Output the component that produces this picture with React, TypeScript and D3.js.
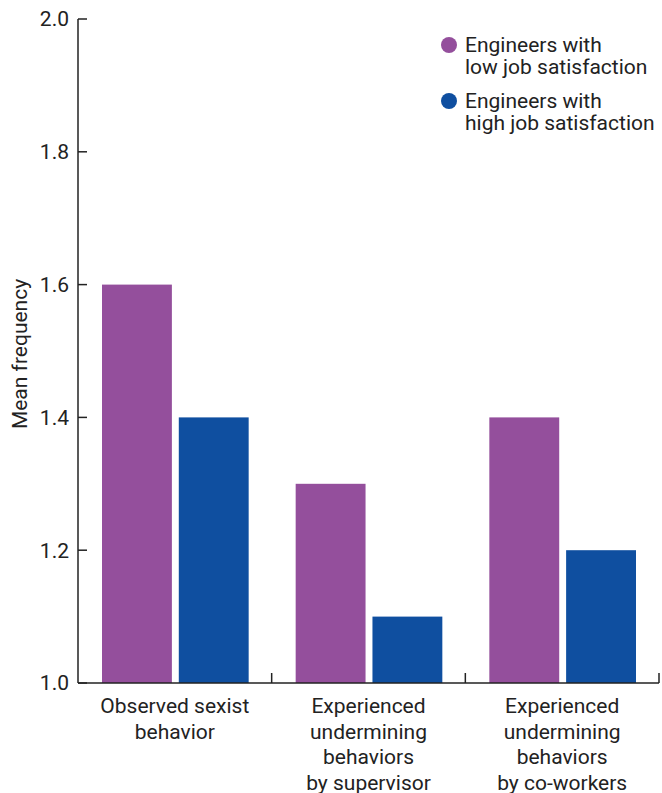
import React from "react";
import * as d3 from "d3";

const categories = [
  ["Observed sexist", "behavior"],
  ["Experienced", "undermining", "behaviors", "by supervisor"],
  ["Experienced", "undermining", "behaviors", "by co-workers"],
];
const seriesKeys = ["low", "high"];
const legendLabels = [
  ["Engineers with", "low job satisfaction"],
  ["Engineers with", "high job satisfaction"],
];
const lowValues = [1.6, 1.3, 1.4];
const highValues = [1.4, 1.1, 1.2];
const yTicks = [1.0, 1.2, 1.4, 1.6, 1.8, 2.0];
const colors = ["#944f9c", "#0f4fa0"];

export default function App() {
  const W = 662, H = 793;
  const left = 78, right = 659, top = 19, bottom = 683;
  const font = "Roboto, 'Noto Sans', sans-serif";
  const x0 = d3.scaleBand<number>().domain([0, 1, 2]).range([left, right]).padding(0);
  const bw = x0.bandwidth();
  const x1 = d3.scaleBand<string>().domain(seriesKeys).range([24, bw - 23]).paddingInner(0.09);
  const y = d3.scaleLinear().domain([1.0, 2.0]).range([bottom, top]);
  const values = [lowValues, highValues];
  const fs = 21;

  return (
    <svg width={W} height={H} style={{ position: "absolute", left: 0, top: 0 }} fontFamily={font}>
      {categories.map((_, i) =>
        seriesKeys.map((k, s) => (
          <rect
            key={`${i}-${k}`}
            x={(x0(i) as number) + (x1(k) as number)}
            y={y(values[s][i])}
            width={x1.bandwidth()}
            height={y(1.0) - y(values[s][i])}
            fill={colors[s]}
          />
        ))
      )}
      {/* y axis */}
      <line x1={left} x2={left} y1={top} y2={bottom} stroke="#222" strokeWidth={1.5} />
      {yTicks.map((t) => (
        <g key={t}>
          <line x1={left} x2={left + 9} y1={y(t)} y2={y(t)} stroke="#222" strokeWidth={1.5} />
          <text x={69} y={y(t)} dy="0.35em" textAnchor="end" fontSize={fs} fill="#222">
            {t.toFixed(1)}
          </text>
        </g>
      ))}
      {/* x axis */}
      <line x1={left} x2={right} y1={bottom} y2={bottom} stroke="#222" strokeWidth={1.5} />
      {[1, 2, 3].map((i) => {
        const xx = i < 3 ? (x0(i) as number) : right;
        return <line key={i} x1={xx} x2={xx} y1={bottom} y2={bottom - 10} stroke="#222" strokeWidth={1.5} />;
      })}
      {categories.map((lines, i) => (
        <text key={i} textAnchor="middle" fontSize={fs} fill="#222">
          {lines.map((l, j) => (
            <tspan key={j} x={(x0(i) as number) + bw / 2} y={713 + j * 25.5}>
              {l}
            </tspan>
          ))}
        </text>
      ))}
      <text
        transform={`translate(27, 354) rotate(-90)`}
        textAnchor="middle"
        fontSize={fs}
        fill="#222"
      >
        Mean frequency
      </text>
      {legendLabels.map((lines, s) => (
        <g key={s} transform={`translate(449, ${45 + s * 56})`}>
          <circle cx={0} cy={0} r={8} fill={colors[s]} />
          <text fontSize={fs} fill="#222">
            {lines.map((l, j) => (
              <tspan key={j} x={16} y={j * 22} dy="0.35em">
                {l}
              </tspan>
            ))}
          </text>
        </g>
      ))}
    </svg>
  );
}
